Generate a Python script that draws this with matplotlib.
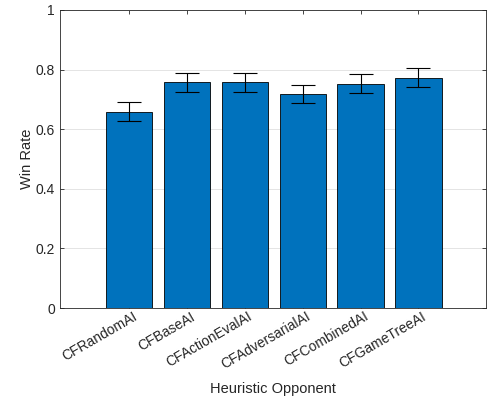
import numpy as np
import matplotlib.pyplot as plt
import matplotlib.transforms as mtransforms

opponents = ['CFRandomAI', 'CFBaseAI', 'CFActionEvalAI', 'CFAdversarialAI',
             'CFCombinedAI', 'CFGameTreeAI']
win_rate = [0.659, 0.758, 0.758, 0.718, 0.753, 0.773]
err = [0.032, 0.032, 0.032, 0.031, 0.032, 0.032]

plt.rcParams['font.family'] = ['Liberation Sans', 'DejaVu Sans']
grey = '#262626'

fig = plt.figure(figsize=(4.87, 3.98), dpi=100)
ax = fig.add_axes([0.123, 0.226, 0.875, 0.749])

x = np.arange(1, len(opponents) + 1)
ax.bar(x, win_rate, width=0.8, color='#0072BD', edgecolor='black', linewidth=0.6, zorder=3)
ax.errorbar(x, win_rate, yerr=err, fmt='none', ecolor='black', elinewidth=0.8,
            capsize=8.5, capthick=0.8, zorder=4)

ax.set_xlim(-0.2, 7.17)
ax.set_ylim(0, 1)
ax.set_yticks([0, 0.2, 0.4, 0.6, 0.8, 1])
ax.set_yticklabels(['0', '0.2', '0.4', '0.6', '0.8', '1'])
ax.set_xticks(x)
ax.set_xticklabels(opponents, rotation=30, ha='right', rotation_mode='anchor')
ax.yaxis.grid(True, color='#dfdfdf', linewidth=0.6, zorder=0)
ax.tick_params(direction='in', top=True, right=True, colors=grey, labelsize=10,
               length=3, width=0.6)
ax.tick_params(axis='x', pad=1)
# nudge the rotated labels a little to the right
shift = mtransforms.ScaledTranslation(3 / 100, 0, fig.dpi_scale_trans)
for lbl in ax.get_xticklabels():
    lbl.set_transform(lbl.get_transform() + shift)
for s in ax.spines.values():
    s.set_color(grey)
    s.set_linewidth(0.6)

ax.set_xlabel('Heuristic Opponent', fontsize=10.5, color=grey, labelpad=7)
ax.set_ylabel('Win Rate', fontsize=10.5, color=grey, labelpad=1)

fig.savefig('out.png', dpi=100)
